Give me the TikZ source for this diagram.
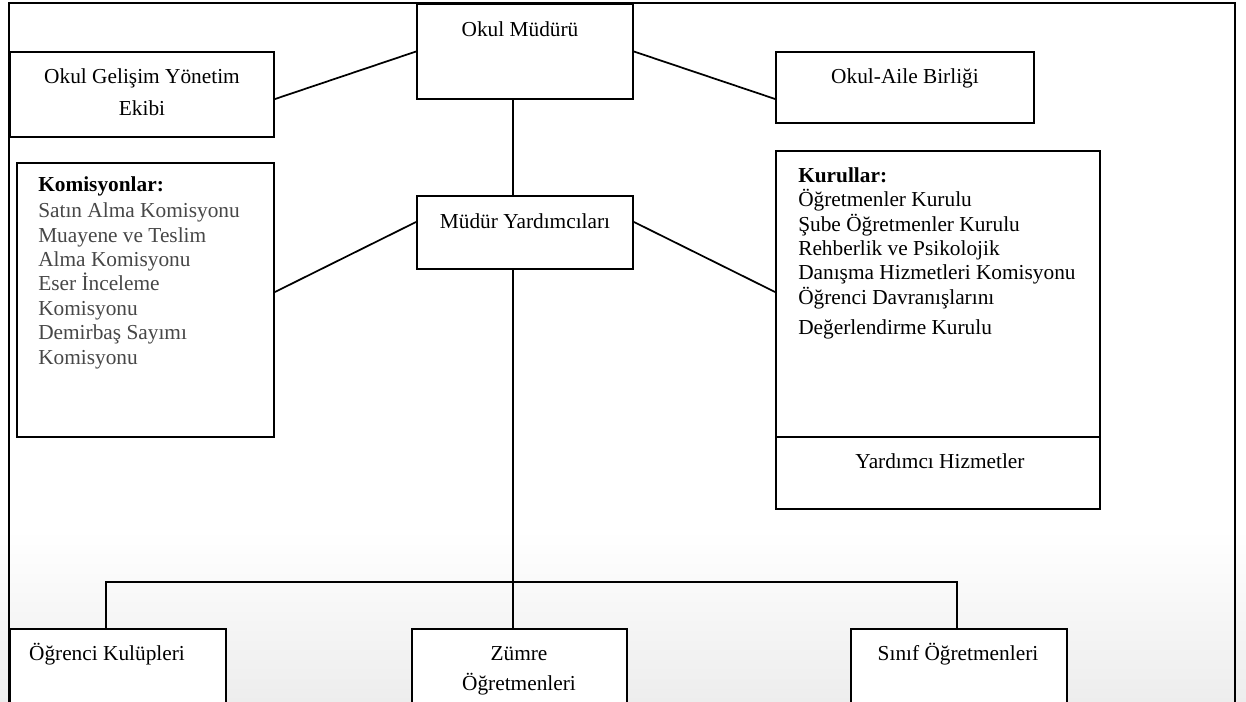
\documentclass[tikz,border=0pt]{standalone}
\usepackage{fontspec}
\setmainfont{Liberation Serif}
\usetikzlibrary{fit,calc}
\begin{document}
\begin{tikzpicture}[x=0.75pt,y=-0.75pt,
  box/.style={draw, line width=1.4pt, fill=white, inner sep=0pt},
  conn/.style={line width=1.3pt},
  frame/.style={line width=2pt},
  lbl/.style={font=\fontsize{16pt}{18.3pt}\selectfont, inner sep=0pt, anchor=base},
  lst/.style={font=\fontsize{16pt}{18.3pt}\selectfont, inner sep=0pt, anchor=base west, align=left}]
\useasboundingbox (0,0) rectangle (1246,701);
\clip (0,0) rectangle (1246,701);
\shade[top color=white, bottom color=black!7] (0,530) rectangle (1246,701);
% outer frame
\draw[frame] (9,710) -- (9,3) -- (1235,3) -- (1235,710);
% boxes
\node[box, fit={(417,4) (633,99)}] (mudur) {};
\node[box, fit={(10,52) (274,137)}] (ogy) {};
\node[box, fit={(776,52) (1034,123)}] (oab) {};
\node[box, fit={(17,163) (274,437)}] (kom) {};
\node[box, fit={(417,196) (633,269)}] (my) {};
\node[box, fit={(776,151) (1100,437)}] (kur) {};
\node[box, fit={(776,437) (1100,509)}] (yh) {};
\node[box, fit={(10,629) (226,715)}] (ok) {};
\node[box, fit={(412,629) (627,715)}] (zo) {};
\node[box, fit={(851,629) (1067,715)}] (so) {};
% texts (multi-line nodes: base = last line)
\node[lbl] (tmudur) at (520,36) {Okul Müdürü};
\node[lbl, align=center, font=\fontsize{16pt}{23.6pt}\selectfont] (togy) at (142,115) {Okul Gelişim Yönetim\\Ekibi};
\node[lbl] (toab) at (905,83) {Okul-Aile Birliği};
\node[lbl] (tmy) at (525,228) {Müdür Yardımcıları};
\node[lst] (tkom) at (38,364) {\textbf{Komisyonlar:}\\[1.5pt]
  \textcolor{black!72}{Satın Alma Komisyonu}\\
  \textcolor{black!72}{Muayene ve Teslim}\\
  \textcolor{black!72}{Alma Komisyonu}\\
  \textcolor{black!72}{Eser İnceleme}\\
  \textcolor{black!72}{Komisyonu}\\
  \textcolor{black!72}{Demirbaş Sayımı}\\
  \textcolor{black!72}{Komisyonu}};
\node[lst] (tkur) at (798,334) {\textbf{Kurullar:}\\
  Öğretmenler Kurulu\\
  Şube Öğretmenler Kurulu\\
  Rehberlik ve Psikolojik\\
  Danışma Hizmetleri Komisyonu\\
  Öğrenci Davranışlarını\\[4pt]
  Değerlendirme Kurulu};
\node[lbl] (tyh) at (940,468) {Yardımcı Hizmetler};
\node[lbl] (tok) at (107,660) {Öğrenci Kulüpleri};
\node[lbl, align=center, font=\fontsize{16pt}{22pt}\selectfont] (tzo) at (519,690) {Zümre\\Öğretmenleri};
\node[lbl] (tso) at (958,660) {Sınıf Öğretmenleri};
% connectors
\coordinate (spine) at (513,0);
\coordinate (busL) at (106,582);
\coordinate (busR) at (957,582);
\draw[conn] ([yshift=-3.4pt]ogy.east) -- (mudur.west);
\draw[conn] (mudur.east) -- ([yshift=-8.6pt]oab.west);
\draw[conn] ([yshift=6pt]kom.east) -- ([yshift=7.9pt]my.west);
\draw[conn] ([yshift=7.9pt]my.east) -- ([yshift=1.5pt]kur.west);
\draw[conn] (mudur.south -| spine) -- (my.north -| spine);
\draw[conn] (my.south -| spine) -- (zo.north -| spine);
\draw[conn] (ok.north -| busL) -- (busL) -- (busR) -- (so.north -| busR);
\end{tikzpicture}
\end{document}
